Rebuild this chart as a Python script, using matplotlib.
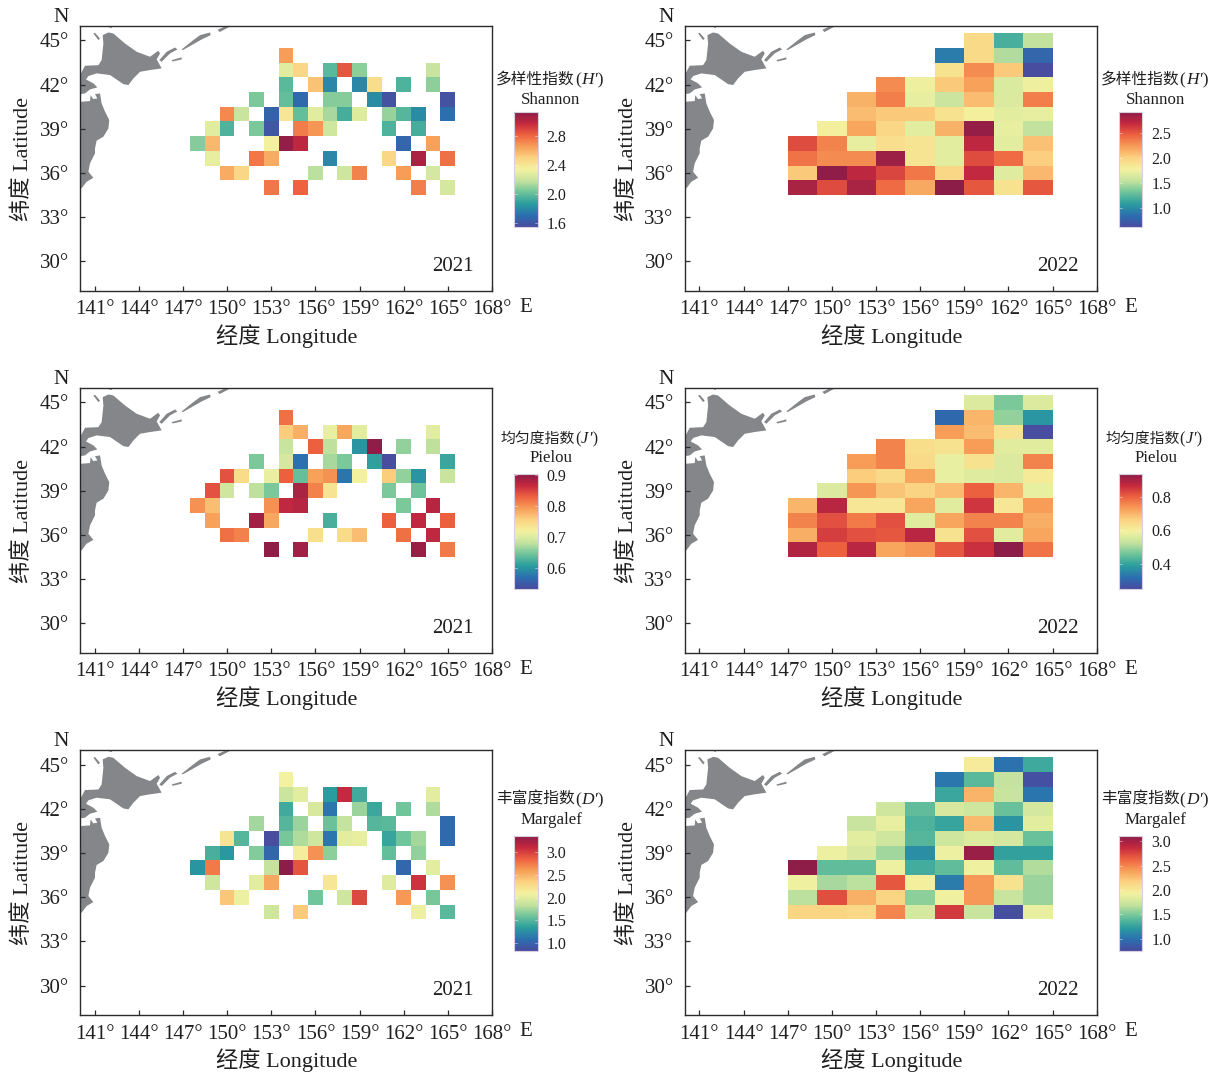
import numpy as np
import matplotlib
matplotlib.use('Agg')
import matplotlib.pyplot as plt
from matplotlib.patches import Polygon
from matplotlib.colors import Normalize, LinearSegmentedColormap
from matplotlib.cm import ScalarMappable

fonts = ['Liberation Serif', 'Noto Sans CJK SC']

_ = np.nan

# 2021 grid: 1 degree cells, columns 148..165, rows 44..35
lons_2021 = np.arange(148, 166)
lats_2021 = np.arange(44, 34, -1)
shannon_2021 = [
    [_, _, _, _, _, _, 2.66, _, _, _, _, _, _, _, _, _, _, _],
    [_, _, _, _, _, _, 2.28, 2.48, _, 1.98, 2.85, 2.08, _, _, _, _, 2.2, _],
    [_, _, _, _, _, _, 1.98, _, 2.55, 1.78, _, 1.78, 2.45, _, 1.95, _, 2.08, _],
    [_, _, _, _, 2.05, _, 2.0, 1.68, _, 2.07, 2.07, _, 1.8, 1.58, _, _, _, 1.58],
    [_, _, 2.72, 2.2, _, 1.65, 2.4, 2.0, 2.28, 2.13, 1.93, 2.27, _, 2.1, 1.97, 1.8, _, 1.7],
    [_, 2.28, 1.95, _, 2.05, 1.6, _, 2.75, 2.68, 2.22, _, _, _, 1.95, _, 1.93, _, _],
    [2.07, 2.58, _, _, _, 2.35, 3.12, 3.0, _, _, _, _, _, _, 1.66, _, 2.65, _],
    [_, 2.3, _, _, 2.76, 2.62, _, _, _, 1.78, _, _, _, 2.48, _, 3.05, _, 2.78],
    [_, _, 2.62, 2.48, _, _, _, _, 2.17, _, 2.22, 2.73, _, _, 2.66, _, 2.24, _],
    [_, _, _, _, _, 2.76, _, 2.82, _, _, _, _, _, _, _, 2.74, _, 2.24],
]
pielou_2021 = [
    [_, _, _, _, _, _, .82, _, _, _, _, _, _, _, _, _, _, _],
    [_, _, _, _, _, _, .76, .78, _, .71, .785, .705, _, _, _, _, .705, _],
    [_, _, _, _, _, _, .685, _, .83, .68, _, .6, .9, _, .66, _, .68, _],
    [_, _, _, _, .65, _, .695, .57, _, .67, .65, _, .61, .535, _, _, _, .615],
    [_, _, .84, .745, _, .71, .83, .64, .79, .8, .575, .72, _, .76, .66, .6, _, .685],
    [_, .84, .69, _, .68, .65, _, .885, .81, .735, _, _, _, .65, _, .645, _, _],
    [.8, .77, _, _, _, .8, .87, .875, _, _, _, _, _, _, .65, _, .875, _],
    [_, .79, _, _, .89, .785, _, _, _, .625, _, _, _, .83, _, .87, _, .83],
    [_, _, .82, .81, _, _, _, _, .74, _, .745, .77, _, _, .82, _, .87, _],
    [_, _, _, _, _, .9, _, .89, _, _, _, _, _, _, _, .895, _, .815],
]
margalef_2021 = [
    [_, _, _, _, _, _, 2.08, _, _, _, _, _, _, _, _, _, _, _],
    [_, _, _, _, _, _, 1.88, 2.0, _, 1.32, 3.1, 1.42, _, _, _, _, 2.0, _],
    [_, _, _, _, _, _, 1.42, _, 1.95, 1.12, _, 1.72, 1.4, _, 1.6, _, 1.78, _],
    [_, _, _, _, 1.75, _, 1.5, 1.72, _, 1.58, 1.85, _, 1.5, 1.52, _, _, _, 1.05],
    [_, _, 2.2, 1.5, _, .85, 1.62, 1.78, 1.9, 1.12, 2.0, 2.02, _, 1.38, 1.6, 1.75, _, 1.05],
    [_, 1.45, 1.3, _, 1.65, 1.03, _, 2.12, 2.65, 1.68, _, _, _, 1.55, _, 1.7, _, _],
    [1.28, 2.75, _, _, _, 1.85, 3.35, 2.9, _, _, _, _, _, _, 1.03, _, 2.0, _],
    [_, 1.9, _, _, 2.0, 2.55, _, _, _, 2.18, _, _, _, 1.98, _, 3.05, _, 2.65],
    [_, _, 2.4, 2.05, _, _, _, _, 1.6, _, 1.9, 2.95, _, _, 2.62, _, 1.62, _],
    [_, _, _, _, _, 1.9, _, 2.38, _, _, _, _, _, _, _, 2.05, _, 1.52],
]

# 2022 grid: 2 x 1 degree cells, columns start at 147..163, rows 45..35
lons_2022 = np.arange(147, 165, 2)
lats_2022 = np.arange(45, 34, -1)
shannon_2022 = [
    [_, _, _, _, _, _, 1.95, 1.2, 1.55],
    [_, _, _, _, _, .92, 1.95, 1.5, .8],
    [_, _, _, _, _, 1.9, 2.3, 2.05, .65],
    [_, _, _, 2.3, 1.75, 2.05, 2.22, 1.65, 1.75],
    [_, _, 2.15, 2.35, 1.72, 1.58, 2.1, 1.65, 2.35],
    [_, _, 2.1, 2.05, 2.05, 1.9, 1.8, 1.7, 1.72],
    [_, 1.8, 2.2, 1.98, 1.7, 2.15, 2.88, 1.72, 1.55],
    [2.55, 2.33, 1.72, 1.92, 1.88, 1.7, 2.72, 1.7, 2.08],
    [2.4, 2.3, 2.3, 2.85, 1.88, 1.7, 2.55, 2.42, 2.02],
    [2.05, 2.9, 2.72, 2.58, 2.38, 1.98, 2.7, 1.68, 2.12],
    [2.8, 2.55, 2.8, 2.42, 2.18, 2.92, 2.5, 1.9, 2.5],
]
pielou_2022 = [
    [_, _, _, _, _, _, .56, .47, .56],
    [_, _, _, _, _, .31, .7, .49, .38],
    [_, _, _, _, _, .73, .69, .63, .26],
    [_, _, _, .76, .64, .63, .73, .57, .57],
    [_, _, .73, .76, .645, .58, .63, .56, .76],
    [_, _, .67, .645, .72, .58, .565, .56, .61],
    [_, .56, .74, .68, .66, .69, .8, .7, .58],
    [.7, .88, .62, .62, .72, .57, .85, .62, .73],
    [.76, .82, .77, .82, .57, .72, .76, .76, .71],
    [.71, .84, .82, .81, .88, .63, .82, .57, .72],
    [.89, .8, .88, .72, .74, .81, .86, .935, .78],
]
margalef_2022 = [
    [_, _, _, _, _, _, 1.98, 1.0, 1.3],
    [_, _, _, _, _, 1.03, 1.4, 1.7, .8],
    [_, _, _, _, _, 1.28, 2.3, 1.72, 1.02],
    [_, _, _, 1.75, 1.42, 1.8, 1.75, 1.45, 1.78],
    [_, _, 1.72, 1.88, 1.35, 1.27, 2.28, 1.18, 1.85],
    [_, _, 1.85, 1.75, 1.38, 1.75, 1.82, 1.78, 1.45],
    [_, 1.9, 1.8, 1.6, 1.15, 1.9, 3.05, 1.25, 1.25],
    [3.1, 1.42, 1.42, 1.9, 1.32, 1.42, 1.92, 1.42, 1.65],
    [1.92, 1.62, 1.68, 2.68, 1.95, 1.05, 2.42, 2.05, 1.58],
    [1.68, 2.72, 2.32, 2.15, 1.55, 1.92, 2.42, 1.72, 1.58],
    [2.15, 2.15, 2.12, 2.5, 1.78, 2.8, 1.72, .78, 1.88],
]

# colour limits of each panel
shannon_2021_lim = (1.54, 3.14)
shannon_2022_lim = (0.63, 2.92)
pielou_2021_lim = (0.532, 0.904)
pielou_2022_lim = (0.253, 0.935)
margalef_2021_lim = (0.823, 3.354)
margalef_2022_lim = (0.75, 3.11)

shannon_2021_ticks = [1.6, 2.0, 2.4, 2.8]
shannon_2022_ticks = [1.0, 1.5, 2.0, 2.5]
pielou_2021_ticks = [0.6, 0.7, 0.8, 0.9]
pielou_2022_ticks = [0.4, 0.6, 0.8]
margalef_2021_ticks = [1.0, 1.5, 2.0, 2.5, 3.0]
margalef_2022_ticks = [1.0, 1.5, 2.0, 2.5, 3.0]

xticks = [141, 144, 147, 150, 153, 156, 159, 162, 165, 168]
yticks = [30, 33, 36, 39, 42, 45]

# coast outline, lon/lat
hokkaido = [(140, 42.64), (140.34, 43.28), (141.25, 43.32), (141.47, 43.66), (141.59, 44.79),
            (141.54, 45.36), (141.93, 45.54), (142.27, 45.47), (143.06, 44.79), (143.85, 44.23),
            (144.76, 43.89), (145.32, 44.3), (145.44, 44.12), (145.21, 43.71), (145.55, 43.1),
            (144.76, 42.99), (144.08, 42.87), (143.63, 42.42), (143.29, 41.97), (142.95, 42.03),
            (142.04, 42.65), (141.13, 42.76), (140.57, 42.58), (140.41, 42.35), (140.91, 42.08),
            (141.18, 41.81), (140.68, 41.67), (140.34, 41.4), (140, 41.35)]
honshu = [(140, 40.72), (140.11, 40.84), (140.68, 40.88), (140.72, 41.28), (140.9, 41.02),
          (141.18, 41.06), (141.02, 41.35), (141.36, 41.4), (141.47, 40.72), (141.7, 40.16),
          (141.99, 39.59), (141.93, 39.02), (141.59, 38.46), (141.13, 38.19), (141.02, 37.67),
          (141.02, 37.33), (140.68, 36.65), (140.57, 36.08), (140.91, 35.67), (140.45, 35.4),
          (140.11, 34.95), (140, 34.95)]
islands = [
    [(145.39, 43.66), (145.89, 44.23), (146.46, 44.52), (146.62, 44.39), (146.12, 44.12), (145.55, 43.55)],
    [(146.91, 44.39), (147.7, 45.02), (148.16, 45.36), (148.84, 45.54), (148.88, 45.36), (148.27, 45.07),
     (147.59, 44.68), (146.98, 44.34)],
    [(149.5, 45.57), (150.3, 46.0), (149.95, 46.0), (149.35, 45.72)],
    [(146.23, 43.66), (146.91, 43.85), (146.91, 43.71), (146.3, 43.57)],
    [(140.91, 45.47), (141.02, 45.52), (141.36, 45.13), (141.25, 45.02)],
    [(141.93, 45.93), (142.15, 45.93), (142.15, 45.86)],
]

W, H = 1220, 1075
ink = '#1f1f1f'

# Spectral_r as it looks on the printed colour bars
cmap = LinearSegmentedColormap.from_list('printed', [
    '#4a4a9e', '#2b6fb0', '#2a9d9e', '#6cc39a', '#c3e29e', '#f3f2a0',
    '#fbd382', '#f79e58', '#ee6240', '#c5293f', '#8c1c48'])


def px_axes(fig, left, top, right, bottom):
    return fig.add_axes([left / W, 1 - bottom / H, (right - left) / W, (bottom - top) / H])


def txt(fig, x, y, s, size=14.5, **kw):
    kw.setdefault('ha', 'center')
    kw.setdefault('va', 'center')
    return fig.text(x / W, 1 - y / H, s, fontsize=size, family=fonts, color=ink, **kw)


def edges(vals, step):
    return np.append(vals - step / 2, vals[-1] + step / 2)


def draw_map(fig, left, top, lon_edges, lat_edges, grid, lim, year):
    ax = px_axes(fig, left, top, left + 412, top + 265)
    for shape in [hokkaido, honshu] + islands:
        ax.add_patch(Polygon(shape, closed=True, fc='#85868a', ec='none'))
    ax.pcolormesh(lon_edges, lat_edges, np.ma.masked_invalid(np.array(grid)),
                  cmap=cmap, vmin=lim[0], vmax=lim[1])
    ax.set_xlim(140, 168)
    ax.set_ylim(28, 46)
    ax.set_xticks(xticks)
    ax.set_yticks(yticks)
    ax.set_xticklabels([f'{v}°' for v in xticks], family=fonts, fontsize=15)
    ax.set_yticklabels([f'{v}°' for v in yticks], family=fonts, fontsize=15)
    ax.tick_params(direction='in', length=3.6, width=0.9, color='#2b2b2b', labelcolor=ink)
    ax.tick_params(axis='x', pad=7)
    ax.tick_params(axis='y', pad=8)
    for s in ax.spines.values():
        s.set_linewidth(1.0)
        s.set_color('#2b2b2b')
    txt(fig, left - 19, top - 8, 'N', 15.5)
    txt(fig, left + 446, top + 282, 'E', 15)
    txt(fig, left + 206.6, top + 310.5, '经度 Longitude', 16)
    txt(fig, left - 57, top + 133, '纬度 Latitude', 16, rotation=90)
    txt(fig, left + 393.5, top + 240.6, year, 15, ha='right')


def draw_cbar(fig, left, top, lim, ticks, zh, sym, name, dy, size):
    cax = px_axes(fig, left, top, left + 23.7, top + 115)
    cb = fig.colorbar(ScalarMappable(Normalize(*lim), cmap), cax=cax)
    cb.set_ticks(ticks)
    cb.set_ticklabels([f'{v:.1f}' for v in ticks], family=fonts, fontsize=11.5)
    cax.tick_params(length=0, pad=6.5, labelcolor=ink)
    cb.outline.set_edgecolor('#d9cfe0')
    cb.outline.set_linewidth(0.8)
    for v in ticks:
        cax.plot([0, 0.12], [v, v], color='white', lw=0.5, alpha=0.6, transform=cax.get_yaxis_transform())
        cax.plot([0.88, 1], [v, v], color='white', lw=0.5, alpha=0.6, transform=cax.get_yaxis_transform())
    # title pieces, chained so only the symbol is italic
    renderer = fig.canvas.get_renderer()
    y = top + dy
    split = left + 61
    txt(fig, split, y, zh, size, ha='right')
    x = split
    for piece, style in [('(', 'normal'), (sym, 'italic'), ('′)', 'normal')]:
        t = txt(fig, x, y, piece, size + 1.2, ha='left', fontstyle=style)
        x = t.get_window_extent(renderer).x1 + 0.5
    txt(fig, left + 37, y + 19.5, name, 12.2)


fig = plt.figure(figsize=(W / 100, H / 100), dpi=100)

left_col, right_col = 80, 684.7
row_tops = [25.7, 387.7, 750]
cbar_tops = [112, 474, 836]
title_dy = [-32, -35, -36]
title_size = [11.3, 10.7, 11.3]

e21 = (edges(lons_2021.astype(float), 1), edges(lats_2021.astype(float), -1))
e22 = (np.append(lons_2022, 165.0), edges(lats_2022.astype(float), -1))

rows = [
    (shannon_2021, shannon_2021_lim, shannon_2021_ticks, shannon_2022, shannon_2022_lim, shannon_2022_ticks,
     '多样性指数', 'H', 'Shannon'),
    (pielou_2021, pielou_2021_lim, pielou_2021_ticks, pielou_2022, pielou_2022_lim, pielou_2022_ticks,
     '均匀度指数', 'J', 'Pielou'),
    (margalef_2021, margalef_2021_lim, margalef_2021_ticks, margalef_2022, margalef_2022_lim, margalef_2022_ticks,
     '丰富度指数', 'D', 'Margalef'),
]

for i, (g1, l1, t1, g2, l2, t2, zh, sym, name) in enumerate(rows):
    draw_map(fig, left_col, row_tops[i], e21[0], e21[1], g1, l1, '2021')
    draw_cbar(fig, 514, cbar_tops[i], l1, t1, zh, sym, name, title_dy[i], title_size[i])
    draw_map(fig, right_col, row_tops[i], e22[0], e22[1], g2, l2, '2022')
    draw_cbar(fig, 1118.7, cbar_tops[i], l2, t2, zh, sym, name, title_dy[i], title_size[i])

fig.savefig('out.png', dpi=100)
